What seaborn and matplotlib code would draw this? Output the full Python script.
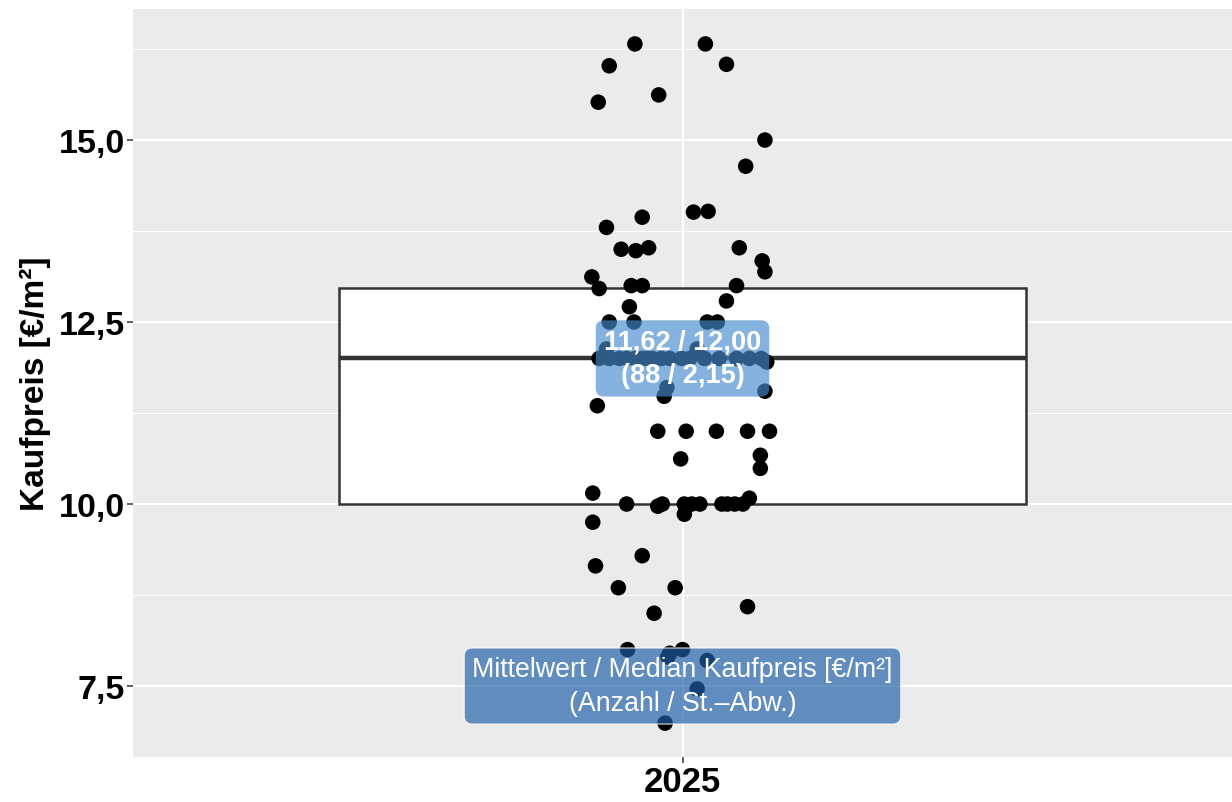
import matplotlib
matplotlib.use("Agg")
import matplotlib.pyplot as plt
from matplotlib.ticker import MultipleLocator, FuncFormatter
import seaborn as sns
import pandas as pd
import numpy as np

# ---- data ----
year_label = "2025"
preis = [
    16.32, 16.32, 16.02, 16.04, 15.62, 15.52, 15.0, 14.64, 14.01, 14.02,
    13.94, 13.80, 13.50, 13.48, 13.52, 13.52, 13.34, 13.19, 13.12, 12.96,
    13.0, 13.0, 13.0, 12.79, 12.71, 12.5, 12.5, 12.5, 12.5, 12.13, 12.13,
    12.0, 12.0, 12.0, 12.0, 12.0, 12.0, 12.0, 12.0, 12.0, 12.0, 12.0, 12.0,
    12.0, 12.0, 12.0, 12.0, 12.0,
    11.95, 11.6, 11.48, 11.55, 11.35,
    11.0, 11.0, 11.0, 11.0, 11.0,
    10.62, 10.67, 10.49, 10.15,
    10.0, 9.97, 10.0, 10.0, 10.0, 10.0, 10.0, 10.0, 10.08, 10.0, 10.0,
    9.86, 9.75, 9.29, 9.15, 8.85, 8.85, 8.59, 8.5, 8.0, 8.0, 7.95, 7.9,
    7.85, 7.46, 6.99,
]
# horizontal jitter of each point (category units)
jitter = [
    -0.052, 0.025, -0.080, 0.048, -0.026, -0.092, 0.090, 0.069, 0.012, 0.028,
    -0.044, -0.083, -0.067, -0.051, -0.037, 0.062, 0.087, 0.090, -0.099, -0.091,
    -0.056, -0.044, 0.059, 0.048, -0.058, -0.080, -0.053, 0.027, 0.038, -0.083, 0.016,
    -0.091, -0.080, -0.069, -0.061, -0.052, -0.044, -0.038, -0.033, -0.023, -0.014,
    -0.001, 0.008, 0.024, 0.040, 0.059, 0.073, 0.086,
    0.092, -0.017, -0.020, 0.090, -0.093,
    -0.027, 0.004, 0.037, 0.071, 0.095,
    -0.002, 0.085, 0.085, -0.098,
    -0.061, -0.027, -0.022, 0.002, 0.010, 0.043, 0.049, 0.066, 0.073, 0.019, 0.057,
    0.002, -0.098, -0.044, -0.095, -0.070, -0.008, 0.071, -0.031, -0.060, 0.000,
    -0.014, -0.016, 0.027, 0.016, -0.019,
]
stat_label = "11,62 / 12,00\n(88 / 2,15)"
stat_label_y = 12.0
legend_label = "Mittelwert / Median Kaufpreis [€/m²]\n(Anzahl / St.–Abw.)"
legend_label_y = 7.5
y_title = "Kaufpreis [€/m²]"

df = pd.DataFrame({"jahr": [year_label] * len(preis), "preis": preis})

# ---- style ----
sns.set_theme(style="darkgrid")
plt.rcParams["font.family"] = ["Liberation Sans", "DejaVu Sans"]

fig = plt.figure(figsize=(12.32, 8.03), dpi=100)
ax = fig.add_axes([133 / 1232, 1 - 758 / 803, 1 - 133 / 1232, (758 - 10) / 803])
ax.set_facecolor("#EBEBEB")

sns.boxplot(
    data=df, x="jahr", y="preis", ax=ax, width=0.75,
    color="white", linecolor="#333333", linewidth=1.8,
    whis=0, showfliers=False, showcaps=False,
    whiskerprops={"visible": False},
    medianprops={"linewidth": 3.2, "color": "#333333"},
    boxprops={"facecolor": "white", "zorder": 2},
    zorder=2,
)

ax.scatter(np.array(jitter), df["preis"], s=125, color="black",
           edgecolors="none", zorder=3)

ax.text(0, stat_label_y, stat_label, ha="center", va="center",
        fontsize=19.5, fontweight="bold", color="white", zorder=5,
        linespacing=1.4,
        bbox=dict(boxstyle="round,pad=0.3,rounding_size=0.3",
                  facecolor=(70 / 255, 139 / 255, 205 / 255), alpha=0.66,
                  edgecolor="none"))

ax.text(0, legend_label_y, legend_label, ha="center", va="center",
        fontsize=19.3, color="white", zorder=5, linespacing=1.4,
        bbox=dict(boxstyle="round,pad=0.3,rounding_size=0.3",
                  facecolor=(32 / 255, 97 / 255, 169 / 255), alpha=0.68,
                  edgecolor="white", linewidth=1.0))

ax.set_xlim(-0.6, 0.6)
ax.set_ylim(6.525, 16.8)
ax.yaxis.set_major_locator(MultipleLocator(2.5))
ax.yaxis.set_minor_locator(MultipleLocator(1.25))
ax.yaxis.set_major_formatter(FuncFormatter(lambda v, p: f"{v:.1f}".replace(".", ",")))

ax.grid(which="major", color="white", linewidth=1.5)
ax.grid(which="minor", axis="y", color="white", linewidth=0.75)
ax.set_axisbelow(True)
for s in ax.spines.values():
    s.set_visible(False)

ax.tick_params(axis="y", which="major", length=4, width=1.1, color="#333333",
               labelsize=24.5, pad=2, left=True)
ax.tick_params(axis="y", which="minor", length=0)
ax.tick_params(axis="x", which="major", length=4, width=1.1, color="#333333",
               labelsize=25, pad=2, bottom=True)
for lab in ax.get_xticklabels() + ax.get_yticklabels():
    lab.set_fontweight("bold")
    lab.set_color("black")

ax.set_xlabel("")
ax.set_ylabel(y_title, fontsize=24, fontweight="bold", color="black", labelpad=5)

fig.savefig("out.png", dpi=100, facecolor="white")
